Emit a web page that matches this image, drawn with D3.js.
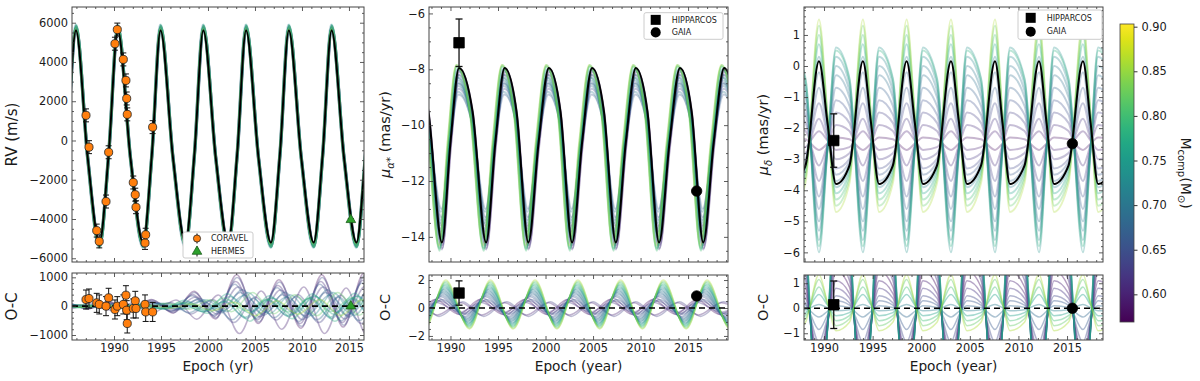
<!DOCTYPE html>
<html>
<head>
<meta charset="utf-8">
<script src="https://cdn.jsdelivr.net/npm/d3@7"></script>
<style>
  body { margin: 0; background: #fff; }
  svg text { font-family: "DejaVu Sans", sans-serif; fill: #1a1a1a; }
</style>
</head>
<body>
<div id="chart"></div>
<script>
// ---------- tick labels ----------
const yearTicks = [1990, 1995, 2000, 2005, 2010, 2015];
const rvTicks = [-6000, -4000, -2000, 0, 2000, 4000, 6000];
const ocRvTicks = [-1000, 0, 1000];
const muaTicks = [-14, -12, -10, -8, -6];
const ocMuaTicks = [-2, 0, 2];
const mudTicks = [-6, -5, -4, -3, -2, -1, 0, 1];
const ocMudTicks = [-1, 0, 1];
const cbarTicks = [0.60, 0.65, 0.70, 0.75, 0.80, 0.85, 0.90];

// ---------- RV data ----------
const coravelEpoch = [1987.02, 1987.34, 1988.16, 1988.43, 1989.15, 1989.43, 1990.10, 1990.35, 1990.99,
  1991.27, 1991.35, 1991.41, 1992.05, 1992.26, 1992.34, 1993.30, 1993.37, 1994.11];
const coravelRV = [1280, -340, -4590, -5140, -3110, -600, 4930, 5650, 4130,
  3060, 2140, 1330, -2140, -2760, -3400, -5220, -4800, 680];
const coravelErr = [330, 330, 330, 330, 330, 330, 330, 330, 330, 330, 330, 330, 330, 330, 330, 330, 330, 330];
const coravelOC = [230, 265, 115, 60, 0, 290, -115, 0, 60, 380, -140, -600, -80, 185, -80, 60, -200, -200];
const hermesEpoch = [2015.2];
const hermesRV = [-4040];
const hermesErr = [60];
const hermesOC = [0];

// ---------- astrometry (HIPPARCOS, GAIA) ----------
const muaEpoch = [1990.9, 2015.9];
const muaVal = [-7.05, -12.36];
const muaErr = [0.85, 0.06];
const muaOC = [1.07, 0.86];
const muaOCErr = [0.87, 0.06];
const mudEpoch = [1991.0, 2015.55];
const mudVal = [-2.4, -2.5];
const mudErr = [0.86, 0.06];
const mudOC = [0.14, 0.0];
const mudOCErr = [0.95, 0.06];

// ---------- best-fit orbit: extrema epochs and values ----------
const rvPeaks = [1985.95, 1990.4, 1994.95, 1999.5, 2004.05, 2008.6, 2013.15, 2017.7];
const rvTroughs = [1983.9, 1988.45, 1993.1, 1997.6, 2002.15, 2006.7, 2011.25, 2015.8];
const rvBest = [5600, -5200];
const muaPeaks = [1986.25, 1990.9, 1995.7, 2000.35, 2004.9, 2009.5, 2014.15, 2018.8];
const muaTroughs = [1989.1, 1993.75, 1998.2, 2002.8, 2007.4, 2011.95, 2016.6, 2021.2];
const muaBest = [-7.95, -14.2];
const mudPeaks = [1984.95, 1989.48, 1994.0, 1998.5, 2003.06, 2007.59, 2012.12, 2016.64, 2021.2];
const mudTroughs = [1986.7, 1991.23, 1995.66, 2000.18, 2004.71, 2009.13, 2013.66, 2018.2];
const mudBest = [0.15, -3.8];
// normalised value half way along each falling / rising stretch (orbit shape)
const rvShape = { fall: -0.2, rise: -0.17 };
const muaShape = { fall: 0.5, rise: 0.15 };
const mudShape = { fall: 0.0, rise: -0.7 };

// ---------- sampled orbits (companion mass) ----------
const ensMass = [0.58, 0.60, 0.61, 0.62, 0.63, 0.64, 0.65, 0.66, 0.67, 0.68,
  0.69, 0.70, 0.71, 0.72, 0.74, 0.76, 0.78, 0.80, 0.82, 0.86];
const rvEnsHi = [5650, 5700, 5620, 5750, 5680, 5800, 5720, 5850, 5600, 5780,
  5700, 5880, 5650, 5820, 5750, 5900, 5700, 5850, 5780, 5650];
const rvEnsLo = [-5250, -5300, -5200, -5350, -5280, -5400, -5300, -5420, -5220, -5380,
  -5300, -5450, -5260, -5400, -5350, -5450, -5300, -5420, -5380, -5250];
const rvEnsShift = [0.05, -0.04, 0.02, 0.06, -0.02, 0.04, -0.05, 0.03, 0.0, -0.03,
  0.05, -0.06, 0.02, 0.04, -0.02, 0.03, -0.04, 0.01, 0.05, -0.03];
const muaEnsHi = [-8.0, -8.2, -8.1, -8.5, -7.95, -8.7, -8.3, -8.9, -8.0, -8.6,
  -8.4, -8.8, -8.2, -8.5, -8.0, -8.3, -7.9, -7.85, -7.9, -7.85];
const muaEnsLo = [-14.3, -14.0, -14.4, -13.6, -14.45, -13.3, -13.8, -13.0, -14.3, -13.4,
  -13.7, -13.1, -14.0, -13.5, -14.4, -13.9, -14.45, -14.5, -14.4, -14.3];
const muaEnsShift = [0.05, 0.0, 0.05, -0.05, 0.0, -0.05, -0.1, -0.05, -0.1, -0.1,
  -0.15, -0.1, -0.15, -0.15, -0.2, -0.2, -0.25, -0.25, -0.3, -0.3];
const mudEnsHi = [-2.7, -2.1, -3.2, -1.7, -3.7, -1.2, -4.2, -0.7, -4.6, -0.2,
  -5.0, -5.3, 0.3, -5.6, -6.0, 0.7, -5.8, 1.0, 1.3, 1.5];
const mudEnsLo = [-2.3, -2.7, -1.9, -3.0, -1.5, -3.3, -1.1, -3.5, -0.7, -3.7,
  -0.3, 0.0, -3.9, 0.3, 0.6, -4.1, 0.5, -4.3, -4.5, -4.7];

// O-C residual extrema of the sampled orbits
const oc1Epochs = [1980.3, 1982.6, 1984.9, 1987.2, 1989.4, 1991.7, 1994.0, 1996.3, 1998.5, 2000.8,
  2003.05, 2005.35, 2007.55, 2009.9, 2012.1, 2014.4, 2016.6, 2018.9, 2021.1];
const oc1Env = [0.08, 0.08, 0.1, 0.12, 0.14, 0.16, 0.2, 0.3, 0.45, 0.55,
  0.95, 0.75, 0.8, 0.95, 0.95, 0.9, 1.0, 1.0, 1.0];
const oc1Amp = [1150, -1000, 900, 700, -600, 1050, 500, 800, 600, -500,
  400, -450, 350, 500, -400, 450, -550, 300, 500, -350];
const oc1Shift = [0, 0.3, -0.1, 0.15, -0.3, 0.05, 0.4, -0.2, 0.6, -0.5,
  0.8, 1.0, -0.7, 1.2, 0.9, -1.0, 1.4, -1.3, 1.7, 2.0];
const oc2Epochs = [1982.6, 1984.8, 1987.2, 1989.4, 1991.9, 1994.1, 1996.5, 1998.8, 2001.1, 2003.3,
  2005.6, 2007.8, 2010.1, 2012.3, 2014.7, 2016.9, 2019.3, 2021.5];
const oc2Amp = [0.6, -0.5, 0.7, 0.4, -0.6, 0.5, 0.8, 0.6, 0.9, 1.0,
  1.1, 1.2, 1.3, 1.4, 1.5, 1.6, 1.7, 1.8, 1.9, 2.0];
const oc2Shift = [-1.0, -0.8, -0.7, -0.9, -0.6, -0.5, -0.4, -0.3, -0.3, -0.2,
  -0.2, -0.1, -0.1, 0, 0, 0, 0.05, 0.05, 0.1, 0.1];

// ---------- layout ----------
const W = 1200, H = 381;
const svg = d3.select("#chart").append("svg").attr("width", W).attr("height", H);
const massColor = d3.scaleSequential(d3.interpolateViridis).domain([0.569, 0.903]);
const curve = d3.line().x((d) => d.x).y((d) => d.y).curve(d3.curveMonotoneX);
let clipCount = 0;

function makePanel(box, xDomain, yDomain, yTicks, yMinorStep, yFmt, showX) {
  const x = d3.scaleLinear().domain(xDomain).range([box.left, box.right]);
  const y = d3.scaleLinear().domain(yDomain).range([box.bottom, box.top]);
  const id = "clip" + clipCount++;
  svg.append("clipPath").attr("id", id).append("rect")
    .attr("x", box.left).attr("y", box.top)
    .attr("width", box.right - box.left).attr("height", box.bottom - box.top);
  const plot = svg.append("g").attr("clip-path", `url(#${id})`);
  return { box, x, y, plot, yTicks, yMinorStep, yFmt, showX };
}

function finishPanel(p) {
  const { box, x, y } = p;
  const g = svg.append("g");
  const xMinor = d3.range(Math.ceil(x.domain()[0]), x.domain()[1], 1).filter((v) => v % 5 !== 0);
  const y0 = y.domain()[0], y1 = y.domain()[1];
  const yMinor = d3.range(Math.ceil(y0 / p.yMinorStep) * p.yMinorStep, y1, p.yMinorStep)
    .filter((v) => !p.yTicks.some((t) => Math.abs(t - v) < 1e-6));
  const sides = [
    [d3.axisBottom, x, `translate(0,${box.bottom})`, yearTicks, xMinor, p.showX ? d3.format("d") : ""],
    [d3.axisTop, x, `translate(0,${box.top})`, yearTicks, xMinor, ""],
    [d3.axisLeft, y, `translate(${box.left},0)`, p.yTicks, yMinor, p.yFmt],
    [d3.axisRight, y, `translate(${box.right},0)`, p.yTicks, yMinor, ""]
  ];
  sides.forEach(([axisFn, scale, tr, major, minor, fmt]) => {
    g.append("g").attr("transform", tr)
      .call(axisFn(scale).tickValues(minor).tickSize(-2).tickFormat(""))
      .call((s) => s.select(".domain").remove());
    g.append("g").attr("transform", tr)
      .call(axisFn(scale).tickValues(major).tickSize(-4).tickPadding(4).tickFormat(fmt === "" ? () => "" : fmt))
      .call((s) => s.select(".domain").remove())
      .call((s) => s.selectAll("text").attr("font-size", 11.4).attr("fill", "#1a1a1a")
        .attr("font-family", '"DejaVu Sans", sans-serif'));
  });
  g.selectAll(".tick line").attr("stroke", "#333").attr("stroke-width", 0.8);
  g.append("rect").attr("x", box.left).attr("y", box.top)
    .attr("width", box.right - box.left).attr("height", box.bottom - box.top)
    .attr("fill", "none").attr("stroke", "#444").attr("stroke-width", 1);
}

// points of a periodic curve through its extrema (and the half-way shape points)
function cycleCurve(peaks, troughs, hi, lo, shape, shift) {
  const ext = peaks.map((t) => ({ t, s: 1 })).concat(troughs.map((t) => ({ t, s: -1 })))
    .sort((a, b) => a.t - b.t);
  const pts = [];
  ext.forEach((e, i) => {
    pts.push({ t: e.t + shift, s: e.s });
    const n = ext[i + 1];
    if (n) pts.push({ t: (e.t + n.t) / 2 + shift, s: e.s > 0 ? shape.fall : shape.rise });
  });
  return pts.map((d) => ({ t: d.t, v: lo + (d.s + 1) / 2 * (hi - lo) }));
}

// residual curve through alternating extrema
function residualCurve(epochs, firstSign, amp, env, shift, ratio) {
  return epochs.map((t, k) => {
    const sign = (k % 2 === 0) ? firstSign : -firstSign;
    const e = env ? env[k] : 1;
    return { t: t + shift, v: amp * e * (sign > 0 ? 1 : -ratio) };
  });
}

function drawCurve(p, pts, color, width, opacity) {
  p.plot.append("path")
    .datum(pts.map((d) => ({ x: p.x(d.t), y: p.y(d.v) })))
    .attr("d", curve)
    .attr("fill", "none")
    .attr("stroke", color)
    .attr("stroke-width", width)
    .attr("stroke-opacity", opacity);
}

function zeroLine(p) {
  p.plot.append("line")
    .attr("x1", p.box.left).attr("x2", p.box.right)
    .attr("y1", p.y(0)).attr("y2", p.y(0))
    .attr("stroke", "#000").attr("stroke-width", 1.6).attr("stroke-dasharray", "6 4");
}

function errorBars(p, ts, vs, es, capW, width) {
  const g = p.plot.append("g").attr("stroke", "#111").attr("stroke-width", width);
  ts.forEach((t, i) => {
    const cx = p.x(t), ya = p.y(vs[i] + es[i]), yb = p.y(vs[i] - es[i]);
    g.append("line").attr("x1", cx).attr("x2", cx).attr("y1", ya).attr("y2", yb);
    g.append("line").attr("x1", cx - capW / 2).attr("x2", cx + capW / 2).attr("y1", ya).attr("y2", ya);
    g.append("line").attr("x1", cx - capW / 2).attr("x2", cx + capW / 2).attr("y1", yb).attr("y2", yb);
  });
}

function markers(p, ts, vs, type, size, fill, stroke) {
  p.plot.append("g").selectAll("path")
    .data(ts.map((t, i) => [t, vs[i]]))
    .join("path")
    .attr("d", d3.symbol(type, size))
    .attr("transform", (d) => `translate(${p.x(d[0])},${p.y(d[1])})`)
    .attr("fill", fill)
    .attr("stroke", stroke)
    .attr("stroke-width", 0.8);
}

function yLabel(x, y, parts, size) {
  const t = svg.append("text").attr("transform", `translate(${x},${y}) rotate(-90)`)
    .attr("text-anchor", "middle").attr("font-size", size);
  parts.forEach((pt) => {
    const s = t.append("tspan").text(pt.text);
    if (pt.sub) s.attr("font-size", size * 0.7).attr("dy", size * 0.25);
    if (pt.back) s.attr("dy", -size * 0.25);
    if (pt.italic) s.attr("font-style", "italic");
  });
  return t;
}

function xLabel(x, y, text, size) {
  svg.append("text").attr("x", x).attr("y", y).attr("text-anchor", "middle")
    .attr("font-size", size).text(text);
}

// ---------- panel boxes ----------
const topA = { left: 72, right: 364, top: 7, bottom: 262 };
const botA = { left: 72, right: 364, top: 273, bottom: 340 };
const topB = { left: 429, right: 728, top: 7, bottom: 262 };
const botB = { left: 429, right: 728, top: 275, bottom: 340 };
const topC = { left: 804, right: 1103, top: 7, bottom: 262 };
const botC = { left: 804, right: 1103, top: 275, bottom: 340 };
const xA = [1985.53, 2016.6], xB = [1987.74, 2019.2], xC = [1987.94, 2018.7];
const fmtInt = d3.format("d");

// ---------- RV panel ----------
const pRV = makePanel(topA, xA, [-6190, 6800], rvTicks, 500, fmtInt, false);
ensMass.forEach((m, i) => {
  drawCurve(pRV, cycleCurve(rvPeaks, rvTroughs, rvEnsHi[i], rvEnsLo[i], rvShape, rvEnsShift[i]),
    massColor(m), 2.4, 0.3);
});
drawCurve(pRV, cycleCurve(rvPeaks, rvTroughs, rvBest[0], rvBest[1], rvShape, 0), "#000", 2, 1);
errorBars(pRV, coravelEpoch, coravelRV, coravelErr, 6, 1);
markers(pRV, coravelEpoch, coravelRV, d3.symbolCircle, 52, "#ff7f0e", "#222");
errorBars(pRV, hermesEpoch, hermesRV, hermesErr, 6, 1);
markers(pRV, hermesEpoch, hermesRV, d3.symbolTriangle, 40, "#2ca02c", "#1d5e1d");
finishPanel(pRV);

const pOC1 = makePanel(botA, xA, [-1173, 1150], ocRvTicks, 200, fmtInt, true);
ensMass.forEach((m, i) => {
  drawCurve(pOC1, residualCurve(oc1Epochs, 1, oc1Amp[i], oc1Env, oc1Shift[i], 0.7),
    massColor(m), 1.5, 0.35);
});
zeroLine(pOC1);
errorBars(pOC1, coravelEpoch, coravelOC, coravelErr, 6, 1);
markers(pOC1, coravelEpoch, coravelOC, d3.symbolCircle, 52, "#ff7f0e", "#222");
markers(pOC1, hermesEpoch, hermesOC, d3.symbolTriangle, 40, "#2ca02c", "#1d5e1d");
finishPanel(pOC1);

// legend (RV)
const legA = svg.append("g");
legA.append("rect").attr("x", 183).attr("y", 232).attr("width", 70).attr("height", 26)
  .attr("rx", 2).attr("fill", "#fff").attr("stroke", "#ccc");
[["CORAVEL", d3.symbolCircle, "#ff7f0e", "#222", 238.5], ["HERMES", d3.symbolTriangle, "#2ca02c", "#1d5e1d", 251.5]]
  .forEach(([name, type, fill, stroke, yy]) => {
    legA.append("line").attr("x1", 197).attr("x2", 197).attr("y1", yy - 5).attr("y2", yy + 5)
      .attr("stroke", "#111").attr("stroke-width", 1);
    legA.append("path").attr("d", d3.symbol(type, 40)).attr("transform", `translate(197,${yy})`)
      .attr("fill", fill).attr("stroke", stroke).attr("stroke-width", 0.8);
    legA.append("text").attr("x", 211).attr("y", yy).attr("dy", "0.35em").attr("font-size", 8).text(name);
  });

yLabel(17, 134.5, [{ text: "RV (m/s)" }], 15);
yLabel(17, 306.5, [{ text: "O-C" }], 15);
xLabel(218, 371, "Epoch (yr)", 13.8);

// ---------- mu alpha panel ----------
const pMA = makePanel(topB, xB, [-14.9, -5.77], muaTicks, 0.5, fmtInt, false);
ensMass.forEach((m, i) => {
  drawCurve(pMA, cycleCurve(muaPeaks, muaTroughs, muaEnsHi[i], muaEnsLo[i], muaShape, muaEnsShift[i]),
    massColor(m), 2, 0.3);
});
drawCurve(pMA, cycleCurve(muaPeaks, muaTroughs, muaBest[0], muaBest[1], muaShape, 0), "#000", 2, 1);
errorBars(pMA, muaEpoch, muaVal, muaErr, 7, 1.3);
markers(pMA, muaEpoch.slice(0, 1), muaVal.slice(0, 1), d3.symbolSquare, 110, "#000", "#000");
markers(pMA, muaEpoch.slice(1), muaVal.slice(1), d3.symbolCircle, 85, "#000", "#000");
finishPanel(pMA);

const pOC2 = makePanel(botB, xB, [-2.29, 2.36], ocMuaTicks, 0.5, fmtInt, true);
ensMass.forEach((m, i) => {
  drawCurve(pOC2, residualCurve(oc2Epochs, -1, oc2Amp[i], null, oc2Shift[i], 0.75),
    massColor(m), 1.5, 0.35);
});
zeroLine(pOC2);
errorBars(pOC2, muaEpoch, muaOC, muaOCErr, 7, 1.3);
markers(pOC2, muaEpoch.slice(0, 1), muaOC.slice(0, 1), d3.symbolSquare, 110, "#000", "#000");
markers(pOC2, muaEpoch.slice(1), muaOC.slice(1), d3.symbolCircle, 85, "#000", "#000");
finishPanel(pOC2);

yLabel(390, 134.5, [{ text: "μ", italic: true }, { text: "α*", sub: true, italic: true }, { text: " (mas/yr)", back: true }], 14.5);
yLabel(390, 307.5, [{ text: "O-C" }], 14.5);
xLabel(578.5, 371, "Epoch (year)", 13.7);

// ---------- mu delta panel ----------
const pMD = makePanel(topC, xC, [-6.31, 1.9], mudTicks, 0.2, fmtInt, false);
ensMass.forEach((m, i) => {
  drawCurve(pMD, cycleCurve(mudPeaks, mudTroughs, mudEnsHi[i], mudEnsLo[i], mudShape, 0),
    massColor(m), 2, 0.3);
});
drawCurve(pMD, cycleCurve(mudPeaks, mudTroughs, mudBest[0], mudBest[1], mudShape, 0), "#000", 2, 1);
errorBars(pMD, mudEpoch, mudVal, mudErr, 7, 1.3);
markers(pMD, mudEpoch.slice(0, 1), mudVal.slice(0, 1), d3.symbolSquare, 110, "#000", "#000");
markers(pMD, mudEpoch.slice(1), mudVal.slice(1), d3.symbolCircle, 85, "#000", "#000");
finishPanel(pMD);

const pOC3 = makePanel(botC, xC, [-1.27, 1.33], ocMudTicks, 0.2, fmtInt, true);
ensMass.forEach((m, i) => {
  drawCurve(pOC3, cycleCurve(mudPeaks, mudTroughs, mudEnsHi[i] - mudBest[0], mudEnsLo[i] - mudBest[1], mudShape, 0),
    massColor(m), 1.5, 0.4);
});
zeroLine(pOC3);
errorBars(pOC3, mudEpoch, mudOC, mudOCErr, 7, 1.3);
markers(pOC3, mudEpoch.slice(0, 1), mudOC.slice(0, 1), d3.symbolSquare, 110, "#000", "#000");
markers(pOC3, mudEpoch.slice(1), mudOC.slice(1), d3.symbolCircle, 85, "#000", "#000");
finishPanel(pOC3);

yLabel(768, 134.5, [{ text: "μ", italic: true }, { text: "δ", sub: true, italic: true }, { text: " (mas/yr)", back: true }], 14.5);
yLabel(768, 307.5, [{ text: "O-C" }], 14.5);
xLabel(953.5, 371, "Epoch (year)", 13.7);

// legends for astrometry panels
[[644, 12.7, 79, 26.6, 655.7, 671.7], [1018, 10, 84, 29.3, 1030.7, 1046.7]].forEach(([lx, ly, lw, lh, mx, tx]) => {
  const g = svg.append("g");
  g.append("rect").attr("x", lx).attr("y", ly).attr("width", lw).attr("height", lh)
    .attr("rx", 2).attr("fill", "#fff").attr("stroke", "#ccc");
  const r1 = ly + lh * 0.25 + 0.5, r2 = ly + lh * 0.74;
  g.append("path").attr("d", d3.symbol(d3.symbolSquare, 100)).attr("transform", `translate(${mx},${r1})`);
  g.append("path").attr("d", d3.symbol(d3.symbolCircle, 80)).attr("transform", `translate(${mx},${r2})`);
  g.append("text").attr("x", tx).attr("y", r1).attr("dy", "0.35em").attr("font-size", 8).text("HIPPARCOS");
  g.append("text").attr("x", tx).attr("y", r2).attr("dy", "0.35em").attr("font-size", 8).text("GAIA");
});

// ---------- colour bar ----------
const cb = { left: 1120, right: 1134, top: 24, bottom: 322 };
const cbScale = d3.scaleLinear().domain(massColor.domain()).range([cb.bottom, cb.top]);
const grad = svg.append("defs").append("linearGradient").attr("id", "viridis")
  .attr("x1", 0).attr("y1", 1).attr("x2", 0).attr("y2", 0);
d3.range(0, 1.0001, 0.05).forEach((f) => {
  grad.append("stop").attr("offset", f).attr("stop-color", d3.interpolateViridis(f));
});
svg.append("rect").attr("x", cb.left).attr("y", cb.top).attr("width", cb.right - cb.left)
  .attr("height", cb.bottom - cb.top).attr("fill", "url(#viridis)").attr("stroke", "#444").attr("stroke-width", 0.8);
svg.append("g").attr("transform", `translate(${cb.right},0)`)
  .call(d3.axisRight(cbScale).tickValues(cbarTicks).tickSize(3.5).tickPadding(4).tickFormat(d3.format(".2f")))
  .call((s) => s.select(".domain").remove())
  .call((s) => s.selectAll("text").attr("font-size", 11.4).attr("fill", "#1a1a1a")
    .attr("font-family", '"DejaVu Sans", sans-serif'))
  .call((s) => s.selectAll("line").attr("stroke", "#333"));

const cbl = svg.append("text").attr("transform", "translate(1181,173) rotate(90)")
  .attr("text-anchor", "middle").attr("font-size", 14);
cbl.append("tspan").text("M");
cbl.append("tspan").text("comp").attr("font-size", 10).attr("dy", 3);
cbl.append("tspan").text("(M").attr("dy", -3);
cbl.append("tspan").text("⊙").attr("font-size", 10).attr("dy", 3);
cbl.append("tspan").text(")").attr("dy", -3);
</script>
</body>
</html>
